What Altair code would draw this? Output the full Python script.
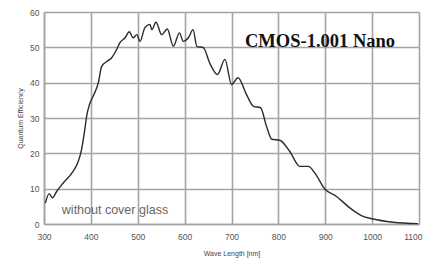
import altair as alt
import pandas as pd

wavelength = [303, 311, 318, 327, 341, 362, 373, 380, 387, 391, 397, 405, 416, 423, 434,
              444, 455, 462, 473, 482, 490, 498, 505, 515, 526, 530, 539, 551, 563, 576,
              589, 597, 608, 618, 626, 640, 654, 670, 686, 700, 714, 732, 747, 762, 775,
              786, 803, 824, 846, 864, 878, 899, 924, 953, 977, 1002, 1045, 1098]
efficiency = [5.9, 8.6, 7.4, 9.2, 11.6, 14.9, 17.7, 21.0, 26.7, 30.5, 33.8, 36.2, 40.0, 44.6, 46.0,
              47.0, 49.4, 51.3, 52.7, 54.4, 52.7, 53.6, 51.7, 55.5, 56.5, 55.0, 57.1, 53.6, 55.2, 50.3,
              54.1, 51.7, 52.7, 55.0, 50.3, 49.9, 45.4, 42.3, 46.6, 39.5, 41.4, 36.6, 33.3, 32.9, 27.5,
              24.0, 23.7, 20.6, 16.3, 16.3, 14.4, 9.9, 7.8, 4.5, 2.4, 1.4, 0.5, 0.1]
x_ticks = [300, 400, 500, 600, 700, 800, 900, 1000, 1100]
y_ticks = [0, 10, 20, 30, 40, 50, 60]
title_text = "CMOS-1.001 Nano"
note_text = "without cover glass"

df = pd.DataFrame({"wl": wavelength, "qe": efficiency})

GRID = "#a4a4a4"
LBL = "#555555"
FONT = "Liberation Sans"

x = alt.X("wl:Q", scale=alt.Scale(domain=[300, 1100], nice=False),
          axis=alt.Axis(values=x_ticks, format="d", labelFlush=False, title="Wave Length [nm]",
                        labelAlign=alt.ExprRef("datum.value == 1100 ? 'right' : 'center'"),
                        labelOffset=alt.ExprRef("datum.value == 1100 ? 3 : 0"),
                        grid=True, gridColor=GRID,
                        gridWidth=1.6, domainColor=GRID, domainWidth=1.6, ticks=False,
                        labelPadding=8, labelFont=FONT, labelFontSize=8.5, labelColor=LBL,
                        titleFont=FONT, titleFontSize=7, titleFontWeight="normal",
                        titleColor="#444444", titleY=29, titleBaseline="middle"))
y = alt.Y("qe:Q", scale=alt.Scale(domain=[0, 60], nice=False),
          axis=alt.Axis(values=y_ticks, labelFlush=False, title="Quantum Efficiency", grid=True,
                        gridColor=GRID,
                        gridWidth=1.6, domainColor=GRID, domainWidth=1.6, ticks=False,
                        labelPadding=5, labelFont=FONT, labelFontSize=8.5, labelColor=LBL,
                        titleFont=FONT, titleFontSize=7, titleFontWeight="normal",
                        titleColor="#444444", titleX=-24, titleY=106, titleBaseline="middle",
                        titleAlign="center", titleAngle=270))

line = alt.Chart(df).mark_line(color="#2b2b2b", strokeWidth=1.4, interpolate="monotone").encode(x=x, y=y)

title = alt.Chart(pd.DataFrame({"t": [title_text]})).mark_text(
    font="Liberation Serif", fontSize=18.5, fontWeight="bold", color="#111111",
    align="center", baseline="middle").encode(
    x=alt.value(276), y=alt.value(29), text="t:N")

note = alt.Chart(pd.DataFrame({"t": [note_text]})).mark_text(
    font=FONT, fontSize=12.5, color="#666666", align="center", baseline="middle").encode(
    x=alt.value(71), y=alt.value(198), text="t:N")

chart = alt.layer(line, title, note).properties(
    width=375, height=212,
    autosize=alt.AutoSizeParams(type="none"),
    padding={"left": 36, "top": 4, "right": 5, "bottom": 36},
).configure_view(stroke=GRID, strokeWidth=1.6).configure(background="white")

chart.save("out.html", embed_options={"renderer": "svg", "actions": False})
